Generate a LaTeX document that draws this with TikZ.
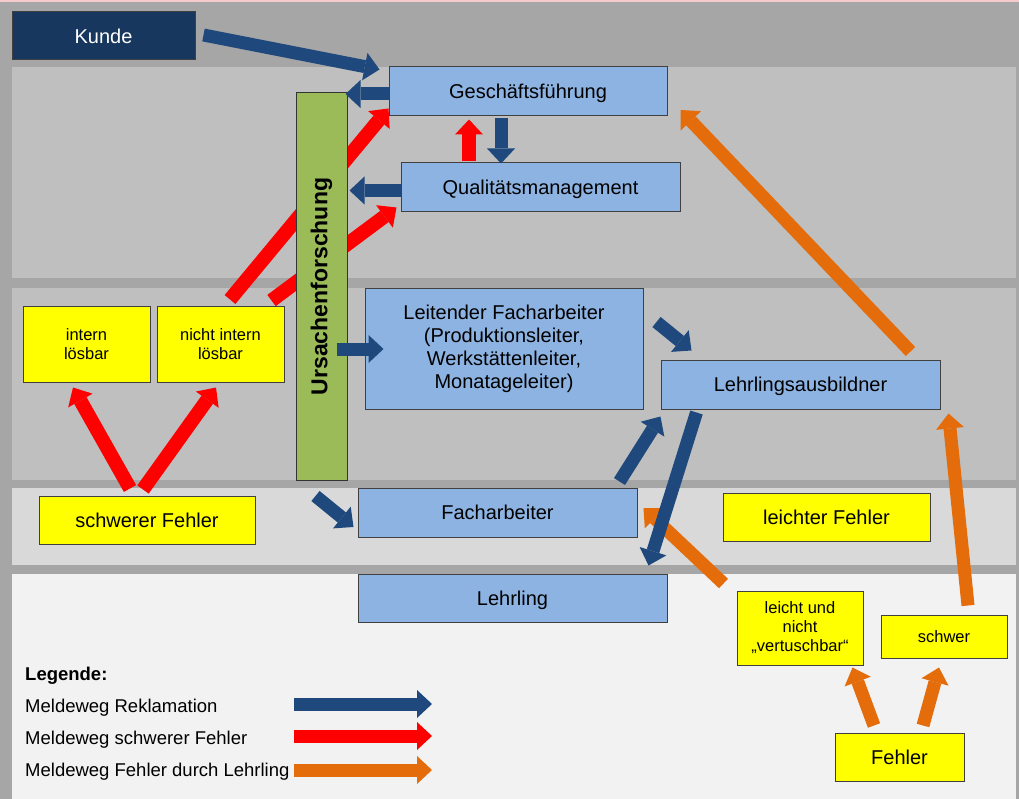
\documentclass[tikz,border=0pt]{standalone}
\usepackage{fontspec}
\setmainfont{Liberation Sans}
\usetikzlibrary{arrows.meta}
\definecolor{bgc}{HTML}{A6A6A6}
\definecolor{bandA}{HTML}{BFBFBF}
\definecolor{bandC}{HTML}{D9D9D9}
\definecolor{bandD}{HTML}{F2F2F2}
\definecolor{pinkc}{HTML}{F4CCCC}
\definecolor{boxblue}{HTML}{8DB3E2}
\definecolor{kundec}{HTML}{17375E}
\definecolor{urgreen}{HTML}{9BBB59}
\definecolor{arrblue}{HTML}{1F497D}
\definecolor{arrred}{HTML}{FF0000}
\definecolor{arrorange}{HTML}{E46C0A}
\definecolor{yelc}{HTML}{FFFF00}
\begin{document}
\begin{tikzpicture}[x=1pt,y=-1pt,
  box/.style={draw=black!75, line width=1pt, inner sep=0pt, align=center, font=\fontsize{20}{23}\selectfont},
  oneline/.style={text depth=0pt},
  bluebox/.style={box, fill=boxblue},
  yelbox/.style={box, fill=yelc},
  smalltext/.style={font=\fontsize{16.5}{19}\selectfont},
  arr/.style={line width=13pt, -{Triangle[length=15pt,width=28pt,line width=0pt]}},
  barr/.style={arr, draw=arrblue, fill=arrblue},
  rarr/.style={arr, draw=arrred, fill=arrred},
  oarr/.style={arr, draw=arrorange, fill=arrorange},
  legtext/.style={anchor=base west, inner sep=0pt, font=\fontsize{18.5}{21}\selectfont}
]
\useasboundingbox (0,0) rectangle (1019,799);
% background
\fill[bgc] (0,0) rectangle (1019,799);
\fill[pinkc] (0,0) rectangle (1019,2);
\fill[bandA] (12,67) rectangle (1016,278);
\fill[bandA] (12,288) rectangle (1016,480);
\fill[bandC] (12,488) rectangle (1016,565);
\fill[bandD] (12,574) rectangle (1016,799);

% boxes
\node[box, oneline, fill=kundec, text=white, minimum width=183, minimum height=48] (kunde) at (103.5,36) {Kunde};
\node[bluebox, oneline, minimum width=278, minimum height=49] (gf) at (528,91.5) {Geschäftsführung};
\node[bluebox, oneline, minimum width=279, minimum height=49] (qm) at (540.5,187.5) {Qualitätsmanagement};
\node[bluebox, minimum width=278, minimum height=120] (lf) at (504,349) {Leitender Facharbeiter\\(Produktionsleiter,\\Werkstättenleiter,\\Monatageleiter)};
\node[bluebox, oneline, minimum width=279, minimum height=49] (la) at (800.5,384.5) {Lehrlingsausbildner};
\node[yelbox, smalltext, minimum width=127, minimum height=75] (il) at (86.5,344.5) {intern\\lösbar};
\node[yelbox, smalltext, minimum width=127, minimum height=75] (nil) at (220.5,344.5) {nicht intern\\lösbar};
\node[yelbox, oneline, minimum width=216, minimum height=48] (sf) at (147,520) {schwerer Fehler};
\node[bluebox, oneline, minimum width=279, minimum height=49] (fa) at (497.5,512.5) {Facharbeiter};
\node[yelbox, oneline, minimum width=207, minimum height=48] (lfe) at (826.5,517) {leichter Fehler};
\node[bluebox, oneline, minimum width=309, minimum height=48] (le) at (512.5,598) {Lehrling};
\node[yelbox, smalltext, minimum width=126, minimum height=74] (lnv) at (800,628) {leicht und\\nicht\\„vertuschbar“};
\node[yelbox, smalltext, oneline, minimum width=126, minimum height=43] (sw) at (944,636.5) {schwer};
\node[yelbox, oneline, minimum width=129, minimum height=48] (fe) at (899.5,757) {Fehler};

% red arrows (behind the green bar)
\draw[rarr, line width=14pt] ([shift={(-71.5,-1)}]qm.north) -- ([shift={(-59,3)}]gf.south);
\draw[rarr, line width=14pt] ([shift={(9.5,-7)}]nil.north) -- ([shift={(0,-8)}]gf.south west);
\draw[rarr, line width=14pt] ([shift={(-13,-6)}]nil.north east) -- ([shift={(-4,-5)}]qm.south west);
\draw[rarr, line width=14pt] ([shift={(-17,-7)}]sf.north) -- ([shift={(-13.5,5)}]il.south);
\draw[rarr, line width=14pt] ([shift={(-4,-6)}]sf.north) -- ([shift={(-4.5,5)}]nil.south);

% green bar
\node[draw=black!80, line width=1pt, fill=urgreen, rotate=90, minimum width=387, minimum height=51, inner sep=0pt, font=\bfseries\fontsize{23}{26}\selectfont] (urs) at (321.5,286.5) {Ursachenforschung};

% orange arrows
\draw[oarr] ([shift={(-13,-7)}]lnv.north west) -- ([shift={(6,-4.5)}]fa.east);
\draw[oarr] ([shift={(-30,-8)}]la.north east) -- ([shift={(13,18.5)}]gf.east);
\draw[oarr] ([shift={(24,-9)}]sw.north) -- ([shift={(8,4)}]la.south east);
\draw[oarr] ([shift={(-25.5,-7)}]fe.north) -- ([shift={(-11,2)}]lnv.south east);
\draw[oarr] ([shift={(23.5,-7)}]fe.north) -- ([shift={(-5,9)}]sw.south);

% blue arrows
\draw[barr] ([shift={(8,-1)}]kunde.east) -- ([shift={(-9,3)}]gf.north west);
\draw[barr] ([shift={(0,2.5)}]gf.west) -- ([shift={(-43,2.5)}]gf.west);
\draw[barr] ([shift={(0,3)}]qm.west) -- ([shift={(-51,3)}]qm.west);
\draw[barr] ([shift={(-27,2)}]gf.south) -- ([shift={(-39.5,1)}]qm.north);
\draw[barr] ([shift={(-28,0)}]lf.west) -- ([shift={(19,0)}]lf.west);
\draw[barr] ([shift={(-42,-16.5)}]fa.west) -- ([shift={(-4,14.5)}]fa.west);
\draw[barr] ([shift={(13,-27)}]lf.east) -- ([shift={(31,-9)}]la.north west);
\draw[barr] ([shift={(-18,-6)}]fa.north east) -- ([shift={(0,7)}]la.south west);
\draw[barr] ([shift={(36,3)}]la.south west) -- ([shift={(-19,-8)}]le.north east);

% legend
\node[legtext] (lg0) at (25,680) {\textbf{Legende:}};
\node[legtext] (lg1) at (25,712.5) {Meldeweg Reklamation};
\node[legtext] (lg2) at (25,744) {Meldeweg schwerer Fehler};
\node[legtext] (lg3) at (25,776.5) {Meldeweg Fehler durch Lehrling};
\coordinate (l1a) at (294,704); \coordinate (l1b) at (432,704);
\coordinate (l2a) at (294,736); \coordinate (l2b) at (432,736);
\coordinate (l3a) at (294,770); \coordinate (l3b) at (432,770);
\draw[barr] (l1a) -- (l1b);
\draw[rarr] (l2a) -- (l2b);
\draw[oarr] (l3a) -- (l3b);
\end{tikzpicture}
\end{document}
